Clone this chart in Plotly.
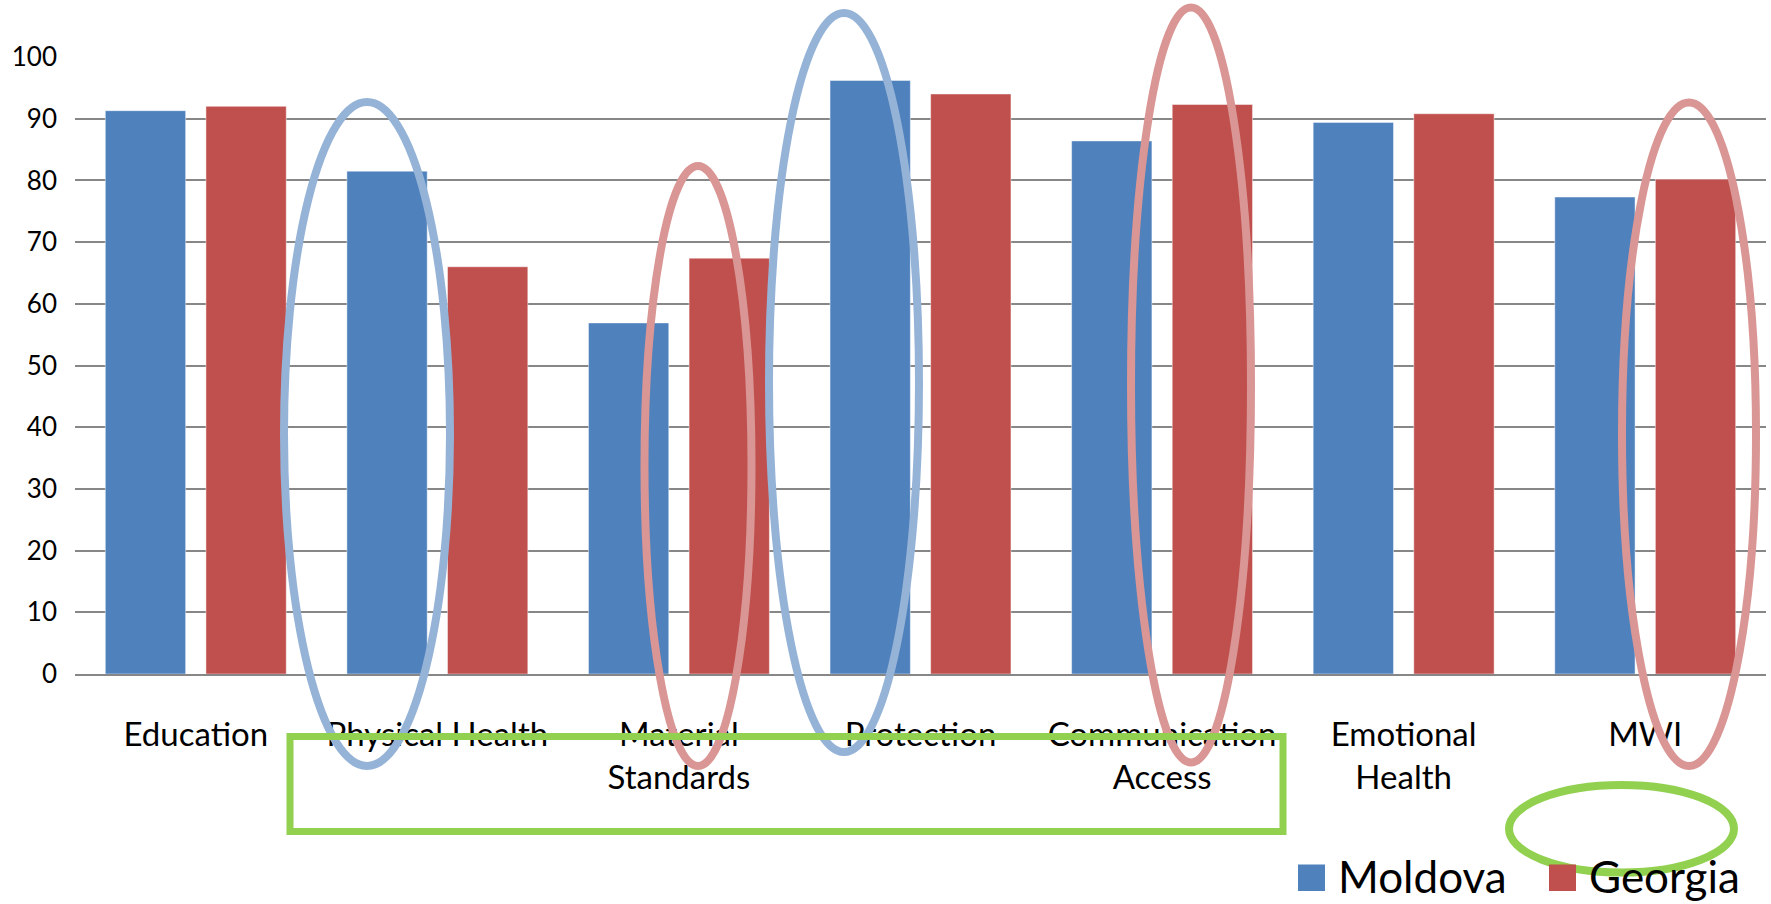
import plotly.graph_objects as go

categories = ["Education", "Physical Health", "Material<br>Standards", "Protection",
              "Communication<br>Access", "Emotional<br>Health", "MWI"]
series_names = ["Moldova", "Georgia"]
moldova = [91.3, 81.5, 56.9, 96.2, 86.4, 89.4, 77.3]
georgia = [92.0, 66.0, 67.4, 94.0, 92.3, 90.8, 80.2]
y_ticks = [0, 10, 20, 30, 40, 50, 60, 70, 80, 90, 100]

BLUE = "#4F81BD"
RED = "#C0504D"
FONT = "Lato"

W, H = 1771, 904
ML, MR, MT, MB = 75, 5, 57, 230
PW = W - ML - MR
PH = H - MT - MB


def px(x):
    return (x - ML) / PW


def py(y):
    return (MT + PH - y) / PH


fig = go.Figure()
fig.add_trace(go.Bar(x=categories, y=moldova, name=series_names[0],
                     marker=dict(color=BLUE, line=dict(color="rgba(255,255,255,0.45)", width=1)),
                     showlegend=False))
fig.add_trace(go.Bar(x=categories, y=georgia, name=series_names[1],
                     marker=dict(color=RED, line=dict(color="rgba(255,255,255,0.45)", width=1)),
                     showlegend=False))

shapes = []
# highlight ellipses (pixel geometry converted to paper coords)
ellipses = [
    (284, 102, 450, 766, "#95B3D7"),
    (644.5, 166, 751.5, 766, "#D99694"),
    (769, 13, 919, 752, "#95B3D7"),
    (1131, 7.5, 1251, 762.5, "#D99694"),
    (1622, 102.5, 1756, 766, "#D99694"),
    (1509, 785, 1734, 872.5, "#92D050"),
]
for x0, y0, x1, y1, c in ellipses:
    shapes.append(dict(type="circle", xref="paper", yref="paper",
                       x0=px(x0), x1=px(x1), y0=py(y1), y1=py(y0),
                       line=dict(color=c, width=8), layer="above"))
# green rectangle
shapes.append(dict(type="rect", xref="paper", yref="paper",
                   x0=px(290), x1=px(1283), y0=py(831.5), y1=py(736.5),
                   line=dict(color="#92D050", width=7), layer="above"))

# manual legend
legend_items = [(1298, series_names[0], BLUE), (1549, series_names[1], RED)]
annotations = []
for lx, name, c in legend_items:
    shapes.append(dict(type="rect", xref="paper", yref="paper",
                       x0=px(lx), x1=px(lx + 27), y0=py(891), y1=py(864.5),
                       fillcolor=c, line=dict(width=0), layer="above"))
    annotations.append(dict(xref="paper", yref="paper", x=px(lx + 38), y=py(876),
                            text=name, showarrow=False, xanchor="left", yanchor="middle",
                            font=dict(family=FONT, size=44, color="#000000")))

fig.update_layout(
    width=W, height=H,
    margin=dict(l=ML, r=MR, t=MT, b=MB, pad=0),
    paper_bgcolor="white", plot_bgcolor="white",
    barmode="group", bargap=0.167, bargroupgap=0.2018,
    shapes=shapes, annotations=annotations,
    showlegend=False,
    font=dict(family=FONT, color="#000000"),
)
fig.update_xaxes(showgrid=False, showline=True, linecolor="#878787", linewidth=2,
                 ticks="", tickfont=dict(family=FONT, size=33, color="#000000"),
                 ticklabelstandoff=30, tickangle=0)
fig.update_yaxes(range=[0, 100], tickvals=y_ticks, showgrid=True, gridcolor="#878787",
                 gridwidth=2, zeroline=False, ticks="",
                 tickfont=dict(family=FONT, size=26, color="#000000"),
                 ticklabelstandoff=17)

fig.write_html("out.html", config={"displayModeBar": False},
               post_script="document.body.style.margin='0';document.body.style.overflow='hidden';")
